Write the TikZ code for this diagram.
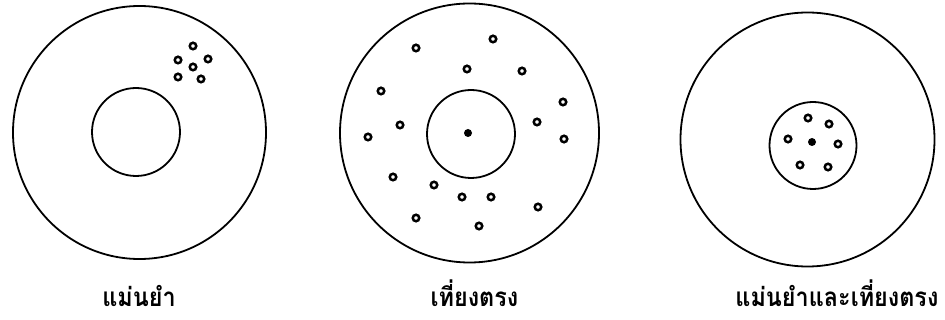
\documentclass[tikz,border=0pt]{standalone}
\usepackage{fontspec}
\newfontfamily\thaifont[Script=Thai, FakeStretch=0.9]{Loma}
\usetikzlibrary{positioning}

\begin{document}
\begin{tikzpicture}[x=1pt, y=-1pt,
  ring/.style={draw, circle, inner sep=0pt, line width=1.8pt},
  hole/.style={draw, circle, inner sep=0pt, minimum size=6.5pt, line width=2.5pt},
  bull/.style={fill, circle, inner sep=0pt, minimum size=8pt},
  caption/.style={anchor=base, font=\thaifont\bfseries\fontsize{26}{30}\selectfont}]

% Background
\fill[white] (0,0) rectangle (945,320);
\useasboundingbox (0,0) rectangle (945,320);

% Target 1: precise, not accurate
\node[ring, minimum size=253pt] (outerA) at (139.5,132.5) {};
\node[ring, minimum size=88pt] (innerA) at (136,132) {};
\foreach \x/\y [count=\i] in {193/46, 178/60, 208/59, 193/67, 178/77, 201/79}
  \node[hole] (holeA\i) at (\x,\y) {};
\node[caption] (capA) at (139,307) {แม่นยำ};

% Target 2: accurate, not precise
\node[ring, minimum size=259pt] (outerB) at (469.5,133) {};
\node[ring, minimum size=88pt] (innerB) at (471,134) {};
\node[bull] (bullB) at (468,133) {};
\foreach \x/\y [count=\i] in {416/48, 493/39, 467/69, 522/71, 381/91, 563/102,
    400/125, 537/122, 368/137, 564/139, 393/177, 434/185, 462/197, 491/197,
    538/207, 416/218, 479/226}
  \node[hole] (holeB\i) at (\x,\y) {};
\node[caption] (capB) at (474.5,307) {เที่ยงตรง};

% Target 3: both
\node[ring, minimum size=254pt] (outerC) at (807.5,139.5) {};
\node[ring, minimum size=87pt] (innerC) at (813,145.5) {};
\node[bull] (bullC) at (812,142) {};
\foreach \x/\y [count=\i] in {808/118, 829/124, 788/139, 838/144, 800/165, 828/167}
  \node[hole] (holeC\i) at (\x,\y) {};
\node[caption, anchor=base east] (capC) at (942,307) {แม่นยำและเที่ยงตรง};

\end{tikzpicture}
\end{document}
